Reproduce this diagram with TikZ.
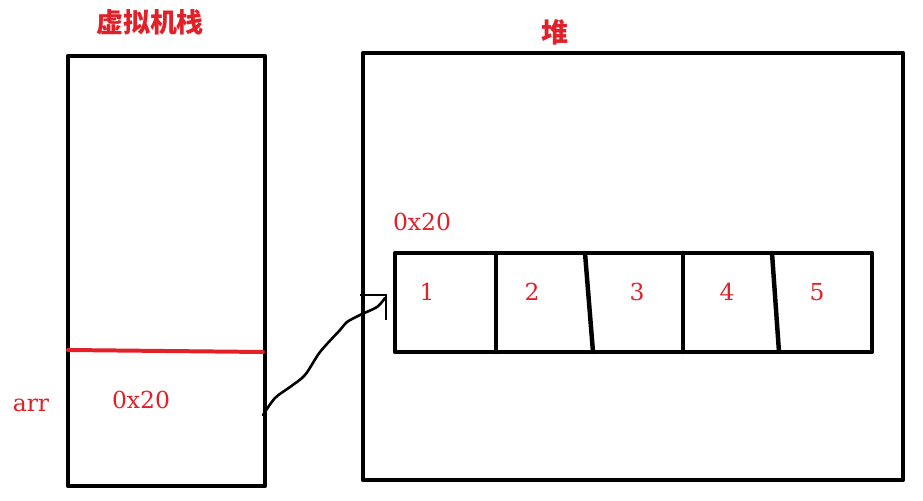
\documentclass[tikz,border=0pt]{standalone}
\usepackage{fontspec}
\usepackage{tkz-euclide}
\setmainfont{DejaVu Serif}
\newfontfamily\cjk{Noto Sans CJK SC}
\definecolor{penred}{RGB}{226,32,40}

\begin{document}
\begin{tikzpicture}[x=0.03cm,y=0.03cm,
    lbl/.style={text=penred,inner sep=0pt,font=\fontsize{20}{24}\selectfont},
    title/.style={text=penred,inner sep=0pt,font=\cjk\bfseries\fontsize{23}{27}\selectfont}]
            \useasboundingbox (0,0) rectangle (923,500);
            \tkzDefPoints{68/14/A, 68/444/B, 265/444/C, 265/14/D, 68/150/P,
            263/148/R}
            \tkzDefPoints{363/20/E, 363/447/F, 903/447/G, 903/20/H}
            \tkzDefPoints{395/148/I, 395/247/J, 872/247/K, 872/148/L,
            496/247/M1, 496/148/N1, 585/247/M2, 593/148/N2,
            683/247/M3, 683/148/N3, 772/247/M4, 779/148/N4}
            \tkzDefPoints{263/85/S, 386/205/T, 360/205/U, 386/180/V}
            \tkzDrawPolygon[line width=3.8pt](A,B,C,D)
            \tkzDrawPolygon[line width=3.8pt](E,F,G,H)
            \tkzDrawPolygon[line width=3.8pt](I,J,K,L)
            \tkzDrawSegment[line width=3.4pt,color=penred](P,R)
            \tkzDrawSegment[line width=3.8pt](M1,N1)
            \tkzDrawSegment[line width=3.8pt](M2,N2)
            \tkzDrawSegment[line width=3.8pt](M3,N3)
            \tkzDrawSegment[line width=3.8pt](M4,N4)
            \draw[line width=2.2pt,line cap=round] plot[smooth] coordinates
                {(S) (275,102) (290,113) (305,125) (320,148) (340,170)
                (347,178) (360,185) (377,193) (385,202)};
            \draw[line width=2.2pt] (U) -- (T) -- (V);
            \node[title] (stacktitle) at (150,478) {虚拟机栈};
            \node[title] (heaptitle) at (555,468) {堆};
            \node[lbl] (arrname) at (31,95) {arr};
            \node[lbl] (arrref) at (141,100) {0x20};
            \node[lbl] (heapaddr) at (422,278) {0x20};
            \foreach \v/\x in {1/427, 2/532, 3/637, 4/727, 5/817}
                \node[lbl] (cell\v) at (\x,208) {\v};
        \end{tikzpicture}
\end{document}
